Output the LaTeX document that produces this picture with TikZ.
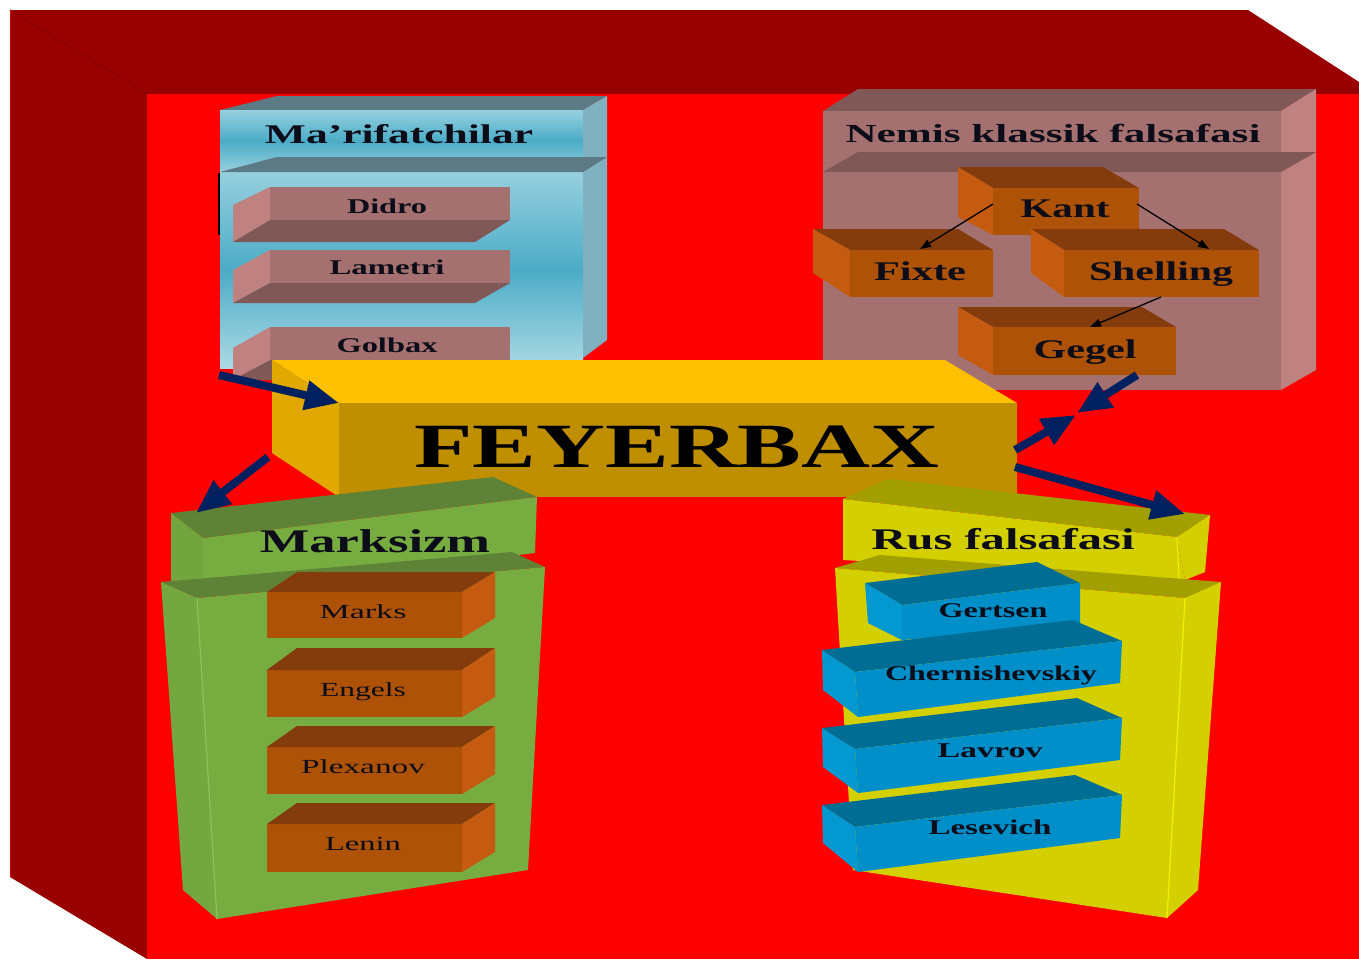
\documentclass[tikz,border=0pt]{standalone}
\usepackage{fontspec}
\setmainfont{Liberation Serif}
\usetikzlibrary{arrows.meta}
\definecolor{frameD}{HTML}{990000}
\definecolor{frameR}{HTML}{FF0000}
\definecolor{frameL}{HTML}{8A0000}
\definecolor{bluTop}{HTML}{5B7A83}
\definecolor{bluSide}{HTML}{7FB1C1}
\definecolor{bluLight}{HTML}{96D0DF}
\definecolor{bluMid}{HTML}{4BACC6}
\definecolor{pnkFront}{HTML}{A57170}
\definecolor{pnkSide}{HTML}{C08280}
\definecolor{pnkDark}{HTML}{805857}
\definecolor{orFront}{HTML}{AE5208}
\definecolor{orSide}{HTML}{C55A11}
\definecolor{orTop}{HTML}{843C0C}
\definecolor{ylTop}{HTML}{FFC000}
\definecolor{ylSide}{HTML}{E0A800}
\definecolor{ylFront}{HTML}{BF8F00}
\definecolor{grTop}{HTML}{5E8236}
\definecolor{grFront}{HTML}{77AC41}
\definecolor{grLine}{HTML}{8DC25A}
\definecolor{yeTop}{HTML}{A2A000}
\definecolor{yeFront}{HTML}{D4D000}
\definecolor{yeLine}{HTML}{F0F000}
\definecolor{cyTop}{HTML}{006E94}
\definecolor{cyFront}{HTML}{008FC8}
\definecolor{cySide}{HTML}{0398D0}
\definecolor{navy}{HTML}{002060}
\definecolor{txtcol}{HTML}{0D0D1A}
\newcommand{\wbox}[2]{\resizebox{#1pt}{\height}{#2}}
\begin{document}
\begin{tikzpicture}[x=1pt,y=-1pt,
  lab/.style={anchor=base, inner sep=0pt, text=txtcol},
  bigarrow/.style={navy, line width=8pt, -{Triangle[length=34pt,width=28pt]}},
  thinarrow/.style={black, line width=1.3pt, -{Triangle[length=11pt,width=8pt]}}]
\useasboundingbox (0,0) rectangle (1359,959);
\fill[white] (0,0) rectangle (1359,959);
% outer frame
\fill[frameD] (10,10) -- (1248,10) -- (1359,82) -- (1359,94) -- (147,94) -- (147,959) -- (10,877) -- cycle;
\fill[frameR] (147,94) rectangle (1359,959);
\draw[frameL, line width=1pt] (10,10) -- (147,94);
\draw[red!60!frameD, line width=1.5pt] (10.5,10) -- (10.5,877);

% ===== Ma'rifatchilar (blue) =====
\fill[bluTop] (220,110) -- (277,96) -- (607,96) -- (583,110) -- cycle;
\shade[top color=bluLight, bottom color=bluLight, middle color=bluMid] (220,110) rectangle (583,172);
\fill[bluSide] (583,110) -- (607,96) -- (607,157) -- (583,172) -- cycle;
\shade[top color=bluLight, bottom color=bluLight!80!white, middle color=bluMid] (220,172) rectangle (583,368);
\fill[bluSide] (583,172) -- (607,157) -- (607,340) -- (583,358) -- cycle;
\fill[bluTop] (220,172) -- (277,157) -- (607,157) -- (583,172) -- cycle;
\draw[black, line width=2pt] (219,173) -- (219,235);
% Didro
\fill[pnkFront] (270,187) rectangle (510,220);
\fill[pnkSide] (233,205) -- (270,187) -- (270,220) -- (233,242) -- cycle;
\fill[pnkDark] (233,242) -- (475,242) -- (510,220) -- (270,220) -- cycle;
% Lametri
\fill[pnkFront] (270,250) rectangle (510,283);
\fill[pnkSide] (233,270) -- (270,250) -- (270,283) -- (233,303) -- cycle;
\fill[pnkDark] (233,303) -- (475,303) -- (510,283) -- (270,283) -- cycle;
% Golbax
\fill[pnkFront] (270,327) rectangle (510,360);
\fill[pnkSide] (233,348) -- (270,327) -- (270,360) -- (233,380) -- cycle;
\fill[pnkDark] (233,380) -- (475,380) -- (510,360) -- (270,360) -- cycle;
\node[lab, font=\fontsize{27}{27}\selectfont\bfseries] (marif) at (399,143) {\wbox{268}{Ma’rifatchilar}};
\node[lab, font=\fontsize{21}{21}\selectfont\bfseries] (didro) at (387,213) {\wbox{80}{Didro}};
\node[lab, font=\fontsize{21}{21}\selectfont\bfseries] (lametri) at (387,274) {\wbox{115}{Lametri}};
\node[lab, font=\fontsize{21}{21}\selectfont\bfseries] (golbax) at (387,352) {\wbox{101}{Golbax}};

% ===== Nemis klassik falsafasi (pink) =====
\fill[pnkDark] (823,111) -- (858,89) -- (1316,89) -- (1281,111) -- cycle;
\fill[pnkFront] (823,111) rectangle (1281,172);
\fill[pnkSide] (1281,111) -- (1316,89) -- (1316,152) -- (1281,172) -- cycle;
\fill[pnkFront] (823,172) rectangle (1281,390);
\fill[pnkSide] (1281,172) -- (1316,152) -- (1316,370) -- (1281,390) -- cycle;
\fill[pnkDark] (823,172) -- (858,152) -- (1316,152) -- (1281,172) -- cycle;
\node[lab, font=\fontsize{26}{26}\selectfont\bfseries] (nemis) at (1053,142) {\wbox{415}{Nemis klassik falsafasi}};
% Kant
\fill[orTop] (958,167) -- (1103,167) -- (1139,188) -- (993,188) -- cycle;
\fill[orSide] (958,167) -- (993,188) -- (993,235) -- (958,217) -- cycle;
\fill[orFront] (993,188) rectangle (1139,235);
% Fixte
\fill[orTop] (813,229) -- (958,229) -- (993,250) -- (850,250) -- cycle;
\fill[orSide] (813,229) -- (850,250) -- (850,297) -- (813,273) -- cycle;
\fill[orFront] (850,250) rectangle (993,297);
% Shelling
\fill[orTop] (1031,229) -- (1224,229) -- (1259,250) -- (1064,250) -- cycle;
\fill[orSide] (1031,229) -- (1064,250) -- (1064,297) -- (1031,273) -- cycle;
\fill[orFront] (1064,250) rectangle (1259,297);
% Gegel
\fill[orTop] (958,307) -- (1142,307) -- (1176,327) -- (993,327) -- cycle;
\fill[orSide] (958,307) -- (993,327) -- (993,375) -- (958,355) -- cycle;
\fill[orFront] (993,327) rectangle (1176,375);
\node[lab, font=\fontsize{27}{27}\selectfont\bfseries] (kant) at (1065,217) {\wbox{89}{Kant}};
\node[lab, font=\fontsize{27}{27}\selectfont\bfseries] (fixte) at (920,280) {\wbox{92}{Fixte}};
\node[lab, font=\fontsize{27}{27}\selectfont\bfseries] (shelling) at (1161,280) {\wbox{144}{Shelling}};
\node[lab, font=\fontsize{27}{27}\selectfont\bfseries] (gegel) at (1085,358) {\wbox{103}{Gegel}};
\coordinate (kantL) at (993,204);
\coordinate (kantR) at (1137,204);
\coordinate (fixteT) at (920,249);
\coordinate (shellT) at (1209,249);
\coordinate (shellB) at (1161,297);
\coordinate (gegelT) at (1090,327);
\draw[thinarrow] (kantL) -- (fixteT);
\draw[thinarrow] (kantR) -- (shellT);
\draw[thinarrow] (shellB) -- (gegelT);

% ===== FEYERBAX =====
\fill[ylTop] (272,360) -- (945,360) -- (1017,403) -- (339,403) -- cycle;
\fill[ylSide] (272,360) -- (339,403) -- (339,497) -- (272,453) -- cycle;
\fill[ylFront] (339,403) rectangle (1017,497);
\node[lab, font=\fontsize{63}{63}\selectfont\bfseries, text=black] (fey) at (677,467) {\wbox{525}{FEYERBAX}};

% ===== Marksizm (green) =====
\fill[grTop] (171,513) -- (493,477) -- (537,497) -- (203,538) -- cycle;
\fill[grFront!96!black] (171,513) -- (203,538) -- (203,592) -- (171,586) -- cycle;
\fill[grFront] (203,538) -- (537,497) -- (535,553) -- (203,592) -- cycle;
\fill[grTop] (161,582) -- (512,552) -- (545,567) -- (197,598) -- cycle;
\fill[grFront!97!black] (161,582) -- (197,598) -- (217,919) -- (183,890) -- cycle;
\fill[grFront] (197,598) -- (545,567) -- (528,870) -- (217,919) -- cycle;
\draw[grLine, line width=1.2pt] (197,598) -- (217,919);
\node[lab, font=\fontsize{33}{33}\selectfont\bfseries] (marksizm) at (375,552) {\wbox{230}{Marksizm}};
% Marks
\fill[orFront] (267,592) rectangle (462,638);
\fill[orTop] (267,592) -- (297,572) -- (495,572) -- (462,592) -- cycle;
\fill[orSide] (462,592) -- (495,572) -- (495,618) -- (462,638) -- cycle;
% Engels
\fill[orFront] (267,670) rectangle (462,717);
\fill[orTop] (267,670) -- (297,648) -- (495,648) -- (462,670) -- cycle;
\fill[orSide] (462,670) -- (495,648) -- (495,697) -- (462,717) -- cycle;
% Plexanov
\fill[orFront] (267,747) rectangle (462,794);
\fill[orTop] (267,747) -- (297,726) -- (495,726) -- (462,747) -- cycle;
\fill[orSide] (462,747) -- (495,726) -- (495,774) -- (462,794) -- cycle;
% Lenin
\fill[orFront] (267,824) rectangle (462,872);
\fill[orTop] (267,824) -- (297,803) -- (495,803) -- (462,824) -- cycle;
\fill[orSide] (462,824) -- (495,803) -- (495,852) -- (462,872) -- cycle;
\node[lab, font=\fontsize{20}{20}\selectfont] (marks) at (363,618) {\wbox{87}{Marks}};
\node[lab, font=\fontsize{20}{20}\selectfont] (engels) at (363,696) {\wbox{86}{Engels}};
\node[lab, font=\fontsize{20}{20}\selectfont] (plexanov) at (363,773) {\wbox{124}{Plexanov}};
\node[lab, font=\fontsize{20}{20}\selectfont] (lenin) at (363,850) {\wbox{76}{Lenin}};

% ===== Rus falsafasi (yellow) =====
\fill[yeTop] (843,499) -- (888,479) -- (1210,515) -- (1177,537) -- cycle;
\fill[yeFront] (843,499) -- (1177,537) -- (1185,580) -- (843,560) -- cycle;
\fill[yeFront] (1177,537) -- (1210,515) -- (1205,572) -- (1185,580) -- cycle;
\draw[yeLine, line width=1pt] (1177,537) -- (1179,578);
\fill[yeTop] (835,568) -- (880,555) -- (1221,582) -- (1185,598) -- cycle;
\fill[yeFront] (835,568) -- (1185,598) -- (1167,918) -- (853,870) -- cycle;
\fill[yeFront] (1185,598) -- (1221,582) -- (1198,890) -- (1167,918) -- cycle;
\draw[yeLine, line width=1.2pt] (1185,598) -- (1167,918);
\node[lab, font=\fontsize{30}{30}\selectfont\bfseries] (rus) at (1003,549) {\wbox{263}{Rus falsafasi}};
% Gertsen
\fill[cyTop] (865,583) -- (1037,562) -- (1080,583) -- (902,605) -- cycle;
\fill[cySide] (865,583) -- (902,605) -- (902,640) -- (868,623) -- cycle;
\fill[cyFront] (902,605) -- (1080,583) -- (1080,625) -- (902,640) -- cycle;
% Chernishevskiy
\fill[cyTop] (822,650) -- (1073,620) -- (1122,641) -- (855,672) -- cycle;
\fill[cySide] (822,650) -- (855,672) -- (858,717) -- (823,690) -- cycle;
\fill[cyFront] (855,672) -- (1122,641) -- (1120,683) -- (858,717) -- cycle;
% Lavrov
\fill[cyTop] (822,728) -- (1077,698) -- (1122,718) -- (855,749) -- cycle;
\fill[cySide] (822,728) -- (855,749) -- (858,793) -- (823,767) -- cycle;
\fill[cyFront] (855,749) -- (1122,718) -- (1120,760) -- (858,793) -- cycle;
% Lesevich
\fill[cyTop] (822,805) -- (1075,775) -- (1122,795) -- (855,827) -- cycle;
\fill[cySide] (822,805) -- (855,827) -- (858,872) -- (823,843) -- cycle;
\fill[cyFront] (855,827) -- (1122,795) -- (1120,838) -- (858,872) -- cycle;
\node[lab, font=\fontsize{21}{21}\selectfont\bfseries] (gertsen) at (993,617) {\wbox{109}{Gertsen}};
\node[lab, font=\fontsize{21}{21}\selectfont\bfseries] (chern) at (991,680) {\wbox{212}{Chernishevskiy}};
\node[lab, font=\fontsize{21}{21}\selectfont\bfseries] (lavrov) at (990,757) {\wbox{105}{Lavrov}};
\node[lab, font=\fontsize{21}{21}\selectfont\bfseries] (lesevich) at (990,834) {\wbox{123}{Lesevich}};

% ===== navy arrows =====
\coordinate (marifB) at (219,375);
\coordinate (feyTL) at (339,403);
\coordinate (feyL) at (268,457);
\coordinate (marxT) at (196,513);
\coordinate (gegelB) at (1137,375);
\coordinate (meetA) at (1077,413);
\coordinate (feyR1) at (1015,450);
\coordinate (meetB) at (1076,415);
\coordinate (feyR2) at (1015,467);
\coordinate (rusT) at (1185,514);
\draw[bigarrow] (marifB) -- (feyTL);
\draw[bigarrow] (feyL) -- (marxT);
\draw[bigarrow] (gegelB) -- (meetA);
\draw[bigarrow] (feyR1) -- (meetB);
\draw[bigarrow] (feyR2) -- (rusT);
\end{tikzpicture}
\end{document}
